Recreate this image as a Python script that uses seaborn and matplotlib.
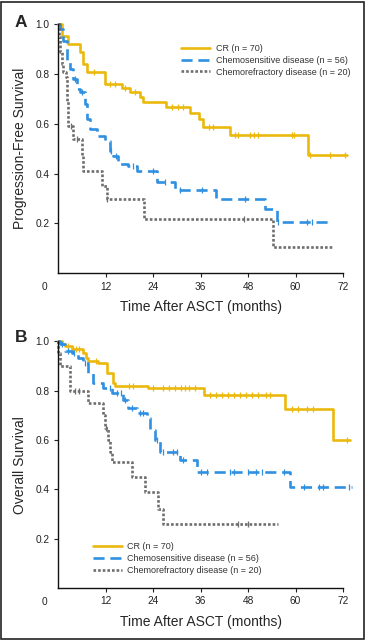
import matplotlib
matplotlib.use("Agg")
import matplotlib.pyplot as plt
from matplotlib.patches import Rectangle
import seaborn as sns
import numpy as np
import pandas as pd

# ---- Panel A: progression-free survival (step curves)
pfs_cr_t = [0, 1.0, 2.5, 5.6, 6.3, 7.3, 11.9, 16.2, 18.2, 20.7, 21.5, 27.3, 33.4, 35.6, 36.6, 43.5, 63.2, 73.0]
pfs_cr_s = [1.0, 0.955, 0.92, 0.89, 0.84, 0.81, 0.76, 0.745, 0.73, 0.71, 0.687, 0.667, 0.643, 0.62, 0.587, 0.554, 0.474, 0.474]
pfs_cr_cens = [9.0, 13.0, 14.5, 17.0, 19.5, 28.8, 30.3, 31.6, 38.2, 39.2, 44.7, 45.5, 48.5, 49.6, 50.6, 59.0, 59.7, 63.7, 68.7, 72.5]

pfs_cs_t = [0, 0.5, 1.3, 2.3, 3.0, 3.8, 4.8, 5.6, 6.8, 7.3, 8.1, 9.9, 11.9, 13.1, 13.9, 15.2, 17.7, 20.0, 25.0, 29.6, 40.0, 52.3, 55.3, 69.2]
pfs_cs_s = [1.0, 0.98, 0.935, 0.85, 0.82, 0.78, 0.74, 0.73, 0.68, 0.62, 0.58, 0.55, 0.53, 0.49, 0.47, 0.44, 0.43, 0.41, 0.365, 0.333, 0.30, 0.26, 0.205, 0.205]
pfs_cs_cens = [4.2, 6.0, 13.5, 14.6, 19.0, 24.0, 27.0, 30.8, 36.4, 47.2, 55.6, 62.9, 64.2]

pfs_rf_t = [0, 0.2, 0.4, 1.0, 1.3, 2.0, 2.3, 2.6, 3.8, 6.1, 6.3, 11.1, 12.4, 21.7, 54.3, 69.5]
pfs_rf_s = [1.0, 0.95, 0.89, 0.84, 0.81, 0.79, 0.69, 0.59, 0.54, 0.47, 0.41, 0.35, 0.30, 0.22, 0.105, 0.105]
pfs_rf_cens = [3.4, 4.8, 12.4, 47.0]

# ---- Panel B: overall survival
os_cr_t = [0, 1.0, 1.8, 3.5, 6.3, 7.1, 7.6, 10.1, 12.4, 13.9, 14.4, 22.7, 36.9, 57.4, 69.5, 73.8]
os_cr_s = [1.0, 0.99, 0.98, 0.97, 0.95, 0.93, 0.92, 0.91, 0.87, 0.83, 0.82, 0.81, 0.78, 0.725, 0.60, 0.60]
os_cr_cens = [2.5, 3.8, 4.5, 5.2, 9.5, 18.0, 19.0, 24.0, 26.5, 28.0, 29.5, 31.0, 32.0, 33.0, 34.5, 38.5, 40.0, 41.5, 43.0, 44.5,
              46.0, 47.5, 49.0, 50.5, 52.5, 53.5, 59.0, 60.5, 63.0, 64.5, 73.0]

os_cs_t = [0, 0.5, 1.8, 3.5, 5.1, 6.3, 7.6, 8.8, 11.4, 13.6, 16.4, 17.7, 20.0, 22.5, 23.2, 24.5, 25.8, 30.8, 35.1, 58.6, 74.3]
os_cs_s = [1.0, 0.99, 0.96, 0.95, 0.93, 0.91, 0.87, 0.83, 0.81, 0.79, 0.76, 0.73, 0.71, 0.69, 0.64, 0.60, 0.55, 0.52, 0.47, 0.41, 0.41]
os_cs_cens = [1.0, 2.5, 4.0, 6.8, 13.0, 15.0, 16.0, 17.0, 18.8, 20.8, 21.5, 25.0, 26.5, 29.0, 30.0, 31.5, 36.0, 37.5, 43.5, 44.5,
              48.0, 50.0, 51.5, 57.0, 62.0, 66.0, 67.0, 73.5]

os_rf_t = [0, 0.1, 0.5, 3.0, 3.1, 7.6, 11.4, 11.9, 12.6, 13.1, 13.6, 18.7, 22.0, 25.3, 26.5, 55.6]
os_rf_s = [1.0, 0.95, 0.90, 0.85, 0.80, 0.75, 0.70, 0.65, 0.60, 0.55, 0.51, 0.45, 0.39, 0.32, 0.26, 0.26]
os_rf_cens = [4.2, 5.2, 12.2, 45.5, 48.0]

labels = ["CR (n = 70)", "Chemosensitive disease (n = 56)", "Chemorefractory disease (n = 20)"]
colors = ["#ebb90d", "#2f8fe0", "#6e6e6e"]
styles = ["-", (0, (4.2, 2.2)), (0, (1.0, 0.75))]


def survival_at(times, surv, t_query):
    idx = np.searchsorted(times, t_query, side="right") - 1
    return np.asarray(surv)[idx]


def draw_panel(ax, curves, ylabel, legend_loc):
    handles = []
    for (t, s, cens), lab, col, ls in zip(curves, labels, colors, styles):
        df = pd.DataFrame({"t": t, "s": s})
        sns.lineplot(data=df, x="t", y="s", ax=ax, drawstyle="steps-post", estimator=None,
                     sort=False, color=col, linewidth=1.9, linestyle=ls, clip_on=False)
        line = ax.lines[-1]
        line.set_dash_capstyle("butt")
        handles.append(line)
        ax.plot(cens, survival_at(t, s, cens), ls="none", marker="|", markersize=5,
                markeredgewidth=0.9, color=col, clip_on=False)

    ax.set_xlim(0, 72)
    ax.set_ylim(0, 1.0)
    ax.set_xticks(range(12, 73, 12))
    ax.set_yticks([0.2, 0.4, 0.6, 0.8, 1.0])
    ax.set_yticklabels(["0.2", "0.4", "0.6", "0.8", "1.0"])
    ax.annotate("0", xy=(0, 0), xycoords="axes fraction", xytext=(-10, -6.5),
                textcoords="offset points", ha="center", va="top", fontsize=7.3, color="#222222")
    ax.tick_params(axis="both", labelsize=7.3, length=3, width=0.8, colors="#222222", pad=3)
    ax.set_xlabel("Time After ASCT (months)", fontsize=10, labelpad=6)
    ax.set_ylabel(ylabel, fontsize=10, labelpad=6)
    sns.despine(ax=ax)
    for sp in ("left", "bottom"):
        ax.spines[sp].set_linewidth(1.0)
        ax.spines[sp].set_color("#111111")
    ax.legend(handles, labels, loc=legend_loc[0], bbox_to_anchor=legend_loc[1], frameon=False,
              fontsize=6.5, handlelength=3.2, handletextpad=0.6, labelspacing=0.3,
              borderaxespad=0, labelcolor="#333333")


sns.set_theme(style="ticks")
plt.rcParams["font.family"] = ["Liberation Sans", "DejaVu Sans"]

fig = plt.figure(figsize=(3.65, 6.4), dpi=100)
ax_a = fig.add_axes([0.159, 0.573, 0.781, 0.389])
ax_b = fig.add_axes([0.159, 0.081, 0.781, 0.386])

draw_panel(ax_a, [(pfs_cr_t, pfs_cr_s, pfs_cr_cens), (pfs_cs_t, pfs_cs_s, pfs_cs_cens),
                  (pfs_rf_t, pfs_rf_s, pfs_rf_cens)],
           "Progression-Free Survival", ("upper left", (0.42, 0.935)))
draw_panel(ax_b, [(os_cr_t, os_cr_s, os_cr_cens), (os_cs_t, os_cs_s, os_cs_cens),
                  (os_rf_t, os_rf_s, os_rf_cens)],
           "Overall Survival", ("upper left", (0.11, 0.2)))

fig.text(0.04, 0.977, "A", fontsize=12.5, fontweight="bold", ha="left", va="top")
fig.text(0.04, 0.484, "B", fontsize=12.5, fontweight="bold", ha="left", va="top")

fig.add_artist(Rectangle((0.002, 0.002), 0.995, 0.995, transform=fig.transFigure,
                         fill=False, edgecolor="#222222", linewidth=1.2))

fig.savefig("out.png", dpi=100)
